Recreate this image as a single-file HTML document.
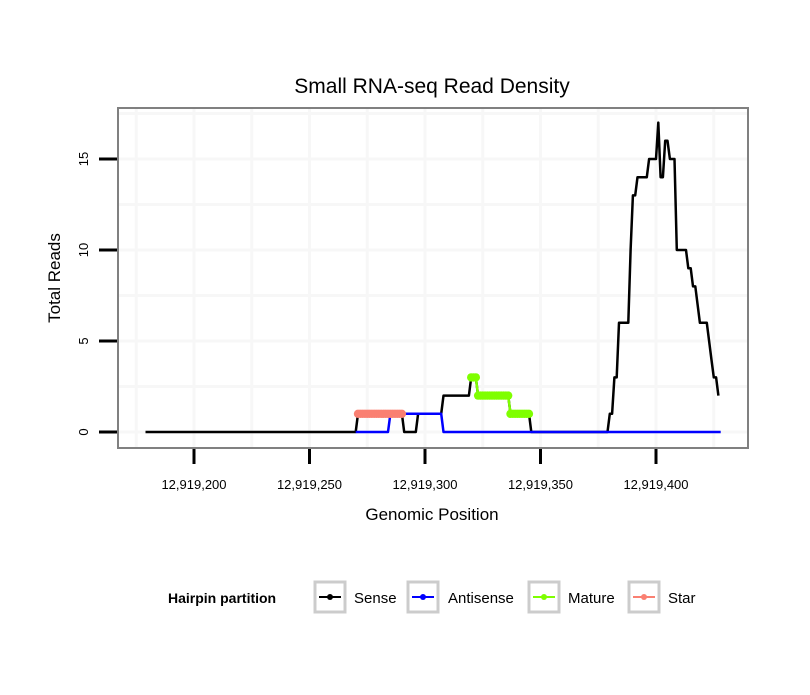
<!DOCTYPE html>
<html><head><meta charset="utf-8"><style>
body{margin:0;background:#fff;font-family:"Liberation Sans",sans-serif;}
svg text{font-family:"Liberation Sans",sans-serif;}
</style></head><body>
<svg id="chart" width="810" height="690" viewBox="0 0 810 690">
<text x="432" y="93" font-size="21" text-anchor="middle">Small RNA-seq Read Density</text>
<g id="grid"></g>
<rect x="118" y="108" width="630" height="340" fill="none" stroke="#808080" stroke-width="2"/>
<g id="series"></g>
<g id="axes"></g>
<text x="432" y="520" font-size="17" text-anchor="middle">Genomic Position</text>
<text transform="translate(60,278) rotate(-90)" font-size="17" text-anchor="middle">Total Reads</text>
<g>
<text x="168" y="603" font-size="14" font-weight="bold">Hairpin partition</text>
<g><rect x="315" y="582" width="30" height="30" fill="#fff" stroke="#ccc" stroke-width="3"/><line x1="319" y1="597" x2="341" y2="597" stroke="#000" stroke-width="2"/><circle cx="330" cy="597" r="3" fill="#000"/><text x="354" y="603" font-size="15">Sense</text></g>
<g><rect x="408" y="582" width="30" height="30" fill="#fff" stroke="#ccc" stroke-width="3"/><line x1="412" y1="597" x2="434" y2="597" stroke="#00f" stroke-width="2"/><circle cx="423" cy="597" r="3" fill="#00f"/><text x="448" y="603" font-size="15">Antisense</text></g>
<g><rect x="529" y="582" width="30" height="30" fill="#fff" stroke="#ccc" stroke-width="3"/><line x1="533" y1="597" x2="555" y2="597" stroke="#7fff00" stroke-width="2"/><circle cx="544" cy="597" r="3" fill="#7fff00"/><text x="568" y="603" font-size="15">Mature</text></g>
<g><rect x="629" y="582" width="30" height="30" fill="#fff" stroke="#ccc" stroke-width="3"/><line x1="633" y1="597" x2="655" y2="597" stroke="#fa8072" stroke-width="2"/><circle cx="644" cy="597" r="3" fill="#fa8072"/><text x="668" y="603" font-size="15">Star</text></g>
</g>
</svg>
<script>
// positions are offsets from 12,919,000
const BASE = 12919000;
const xTicks = [200, 250, 300, 350, 400];
const xTickLabels = ["12,919,200","12,919,250","12,919,300","12,919,350","12,919,400"];
const yTicks = [0, 5, 10, 15];
const yTickLabels = ["0","5","10","15"];
const sensePos = [179,270,271,290,291,296,297,307,308,319,320,322,323,336,337,345,346,379,380,381,382,383,384,388,389,390,391,392,396,397,400,401,402,403,404,405,406,408,409,413,414,415,416,417,418,419,422,423,424,425,426,427];
const senseVal = [0,0,1,1,0,0,1,1,2,2,3,3,2,2,1,1,0,0,1,1,3,3,6,6,10,13,13,14,14,15,15,17,14,14,16,16,15,15,10,10,9,9,8,8,7,6,6,5,4,3,3,2];
const antiPos = [270,284,285,307,308,428];
const antiVal = [0,0,1,1,0,0];
const maturePos = [320,321,322,323,324,325,326,327,328,329,330,331,332,333,334,335,336,337,338,339,340,341,342,343,344,345];
const matureVal = [3,3,3,2,2,2,2,2,2,2,2,2,2,2,2,2,2,1,1,1,1,1,1,1,1,1];
const starPos = [271,272,273,274,275,276,277,278,279,280,281,282,283,284,285,286,287,288,289,290];
const starVal = [1,1,1,1,1,1,1,1,1,1,1,1,1,1,1,1,1,1,1,1];

const NS="http://www.w3.org/2000/svg";
function xs(p){return 194 + (p-200)*2.31;}
function ys(v){return 432 - v*18.2;}
function mk(tag, attrs, parent){const e=document.createElementNS(NS,tag);for(const k in attrs)e.setAttribute(k,attrs[k]);parent.appendChild(e);return e;}
const grid=document.getElementById('grid'), axes=document.getElementById('axes'), series=document.getElementById('series');
mk('rect',{x:118,y:108,width:630,height:340,fill:'#fff'},grid);
for(let i=-1;i<xTicks.length;i++){
  const mid=xTicks[0]+25+i*50;
  [mid].concat(i>=0?[xTicks[i]]:[]).forEach(p=>{const X=xs(p);if(X>118&&X<748){const l=mk('line',{x1:X,x2:X,y1:109,y2:447,stroke:'#f7f7f7','stroke-width':3},grid);
  
  }});
}
for(let v=-2.5;v<=17.5;v+=2.5){const Y=ys(v);if(Y>108&&Y<448){const l=mk('line',{x1:119,x2:747,y1:Y,y2:Y,stroke:'#f7f7f7','stroke-width':3},grid);
  
  }}
xTicks.forEach((p,i)=>{const X=xs(p);
  const t=mk('line',{x1:X,x2:X,y1:449,y2:464,stroke:'#000','stroke-width':3},axes);
  
  
  const tx=mk('text',{x:X,y:489,'font-size':13,'text-anchor':'middle'},axes);tx.textContent=xTickLabels[i];
  
  });
yTicks.forEach((v,i)=>{const Y=ys(v);
  const t=mk('line',{x1:99,x2:117,y1:Y,y2:Y,stroke:'#000','stroke-width':3},axes);
  
  
  const tx=mk('text',{transform:`translate(88,${Y}) rotate(-90)`,'font-size':13,'text-anchor':'middle'},axes);tx.textContent=yTickLabels[i];
  
  });
function line(pos,val,color,w,name){const d=pos.map((p,i)=>(i?'L':'M')+xs(p).toFixed(1)+','+ys(val[i]).toFixed(1)).join('');
  const e=mk('path',{d:d,fill:'none',stroke:color,'stroke-width':w,'stroke-linejoin':'round'},series);
  
  }
function pts(pos,val,color,name){line(pos,val,color,2.5,name+'-line');
  pos.forEach((p,i)=>{const c=mk('circle',{cx:xs(p),cy:ys(val[i]),r:4.2,fill:color},series);
  
  });}
line(sensePos,senseVal,'#000',2.5,'sense-line');
line(antiPos,antiVal,'#0000ff',2.5,'antisense-line');
pts(maturePos,matureVal,'#7fff00','mature');
pts(starPos,starVal,'#fa8072','star');
</script>
</body></html>
